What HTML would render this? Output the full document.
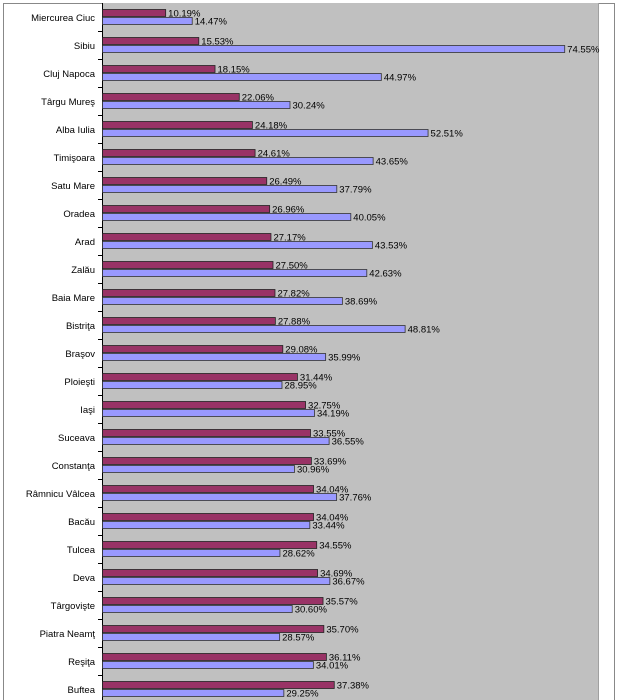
<!DOCTYPE html>
<html><head><meta charset="utf-8"><style>
html,body{margin:0;padding:0;background:#fff;}
svg{display:block;}
text{font-family:"Liberation Sans",Arial,sans-serif;font-size:9.5px;fill:#000;}
</style></head><body>
<svg width="619" height="700" xmlns="http://www.w3.org/2000/svg">
<rect x="3.5" y="3.5" width="611" height="700" fill="#fff" stroke="#888" stroke-width="1"/>
<rect x="102" y="3" width="496" height="697" fill="#c0c0c0"/>
<line x1="598.5" y1="3" x2="598.5" y2="700" stroke="#a0a0a0"/>
<line x1="102.5" y1="3" x2="102.5" y2="700" stroke="#000"/>
<g id="g"></g>
</svg>
<script>
var d=[["Miercurea Ciuc",10.19,14.47],["Sibiu",15.53,74.55],["Cluj Napoca",18.15,44.97],["Târgu Mureş",22.06,30.24],["Alba Iulia",24.18,52.51],["Timişoara",24.61,43.65],["Satu Mare",26.49,37.79],["Oradea",26.96,40.05],["Arad",27.17,43.53],["Zalău",27.50,42.63],["Baia Mare",27.82,38.69],["Bistriţa",27.88,48.81],["Braşov",29.08,35.99],["Ploieşti",31.44,28.95],["Iaşi",32.75,34.19],["Suceava",33.55,36.55],["Constanţa",33.69,30.96],["Râmnicu Vâlcea",34.04,37.76],["Bacău",34.04,33.44],["Tulcea",34.55,28.62],["Deva",34.69,36.67],["Târgovişte",35.57,30.60],["Piatra Neamţ",35.70,28.57],["Reşiţa",36.11,34.01],["Buftea",37.38,29.25]];
var s="",k=6.2;
for(var i=0;i<d.length;i++){
 var y=9+i*28;
 var w1=d[i][1]*k,w2=d[i][2]*k;
 s+='<rect x="102.5" y="'+(y+0.5)+'" width="'+w1+'" height="7" fill="#993366" stroke="#222" stroke-width="0.8"/>';
 s+='<rect x="102.5" y="'+(y+8.5)+'" width="'+w2+'" height="7" fill="#9999ff" stroke="#333" stroke-width="0.8"/>';
 s+='<text x="'+(105+w1)+'" y="'+(y+7.5)+'">'+d[i][1].toFixed(2)+'%</text>';
 s+='<text x="'+(105+w2)+'" y="'+(y+15.5)+'">'+d[i][2].toFixed(2)+'%</text>';
 s+='<text x="95" y="'+(y+12)+'" text-anchor="end">'+d[i][0]+'</text>';
 s+='<line x1="98" x2="102" y1="'+(31.5+i*28)+'" y2="'+(31.5+i*28)+'" stroke="#000"/>';
}
document.getElementById("g").innerHTML=s;
</script>
</body></html>
